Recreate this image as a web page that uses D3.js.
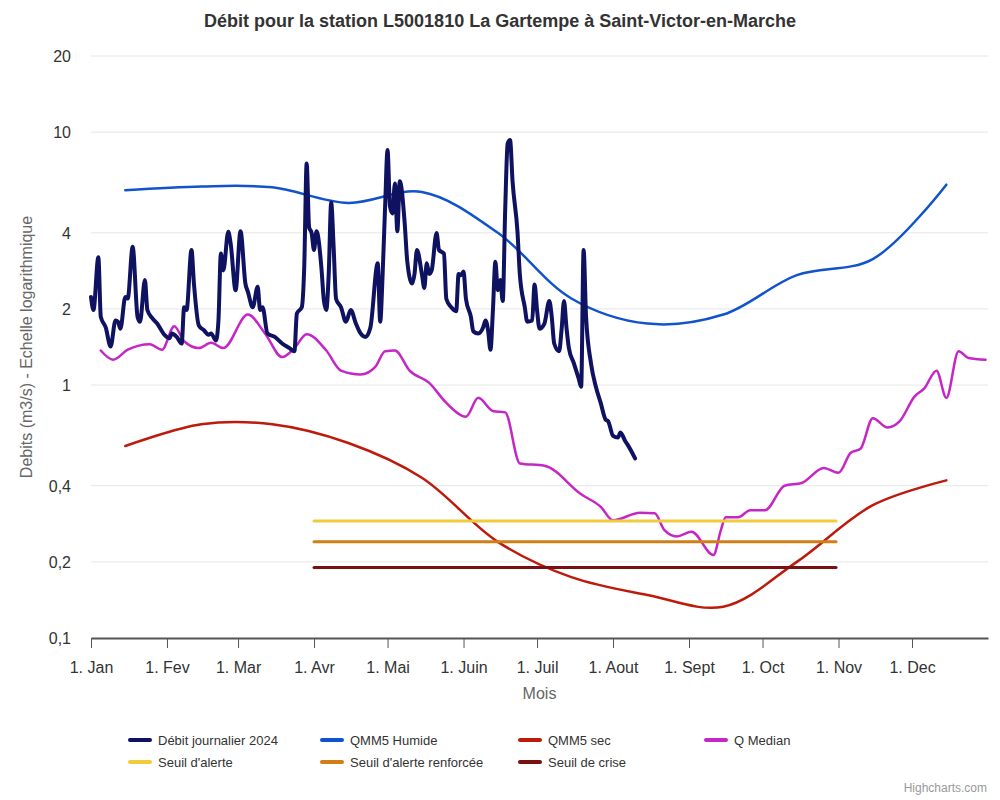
<!DOCTYPE html>
<html>
<head>
<meta charset="utf-8">
<script src="https://cdn.jsdelivr.net/npm/d3@7"></script>
<style>
  body { margin: 0; background: #fff; }
  svg { font-family: "Liberation Sans", Arial, sans-serif; }
</style>
</head>
<body>
<div id="chart"></div>
<script>
// Data
const monthLabels = ["1. Jan", "1. Fev", "1. Mar", "1. Avr", "1. Mai", "1. Juin",
                     "1. Juil", "1. Aout", "1. Sept", "1. Oct", "1. Nov", "1. Dec"];
const yTicks = [0.1, 0.2, 0.4, 1, 2, 4, 10, 20];

// daily flow 2024: day of year (0 = 1 Jan) and value m3/s
const dailyDays = [0, 1, 3, 4, 6, 8, 10, 11, 12, 14, 15, 17, 19, 20, 22, 23, 25, 27, 30, 32,
  33, 35, 37, 38, 39, 41, 42, 44, 46, 48, 49, 51, 52, 53, 54, 56, 57, 59, 61, 63,
  64, 66, 68, 69, 70, 72, 75, 78, 81, 83, 84, 86, 87, 88, 89, 90, 91, 92, 94, 95,
  96, 97, 98, 99, 100, 102, 104, 106, 108, 110, 112, 114, 117, 118, 119, 120, 121, 122, 123, 124,
  125, 126, 128, 129, 131, 132, 133, 135, 136, 137, 138, 139, 141, 142, 144, 145, 147, 149, 150, 151,
  152, 153, 155, 156, 158, 160, 161, 162, 163, 164, 165, 166, 167, 168, 169, 170, 171, 172, 174, 175,
  177, 178, 180, 181, 182, 183, 185, 187, 188, 189, 191, 192, 193, 194, 195, 197, 199, 200, 201, 202,
  204, 206, 208, 210, 211, 213, 215, 216, 218, 219, 222];
const dailyValues = [2.23, 1.98, 3.2, 1.86, 1.69, 1.42, 1.8, 1.78, 1.67, 2.23, 2.2, 3.52, 1.86, 1.78, 2.6, 1.98, 1.84, 1.75, 1.58, 1.53,
  1.6, 1.55, 1.46, 2.03, 1.98, 3.42, 2.52, 1.72, 1.65, 1.58, 1.6, 1.5, 1.8, 3.31, 2.84, 4.04, 3.62, 2.37, 4.06, 2.52,
  2.34, 2.03, 2.45, 1.98, 2.03, 1.6, 1.55, 1.46, 1.4, 1.36, 1.92, 2.03, 2.92, 7.52, 4.2, 4.0, 3.42, 4.06, 2.92, 2.17,
  1.98, 2.75, 5.27, 3.52, 2.19, 2.03, 1.78, 1.98, 1.76, 1.6, 1.55, 1.69, 3.03, 1.78, 2.75, 5.07, 8.49, 5.07, 4.77, 6.27,
  4.06, 6.4, 4.36, 3.12, 2.52, 2.75, 3.42, 2.75, 2.42, 3.03, 2.75, 2.84, 3.99, 3.42, 3.31, 2.19, 2.03, 1.96, 2.75, 2.72,
  2.81, 2.19, 1.86, 1.63, 1.6, 1.69, 1.8, 1.65, 1.38, 1.98, 3.07, 2.37, 2.6, 2.15, 4.92, 9.0, 9.3, 6.4, 4.06, 2.72,
  2.03, 1.78, 1.8, 2.5, 1.98, 1.67, 1.75, 2.15, 1.86, 1.46, 1.36, 1.65, 2.15, 1.69, 1.4, 1.22, 1.06, 0.985, 3.42, 1.86,
  1.22, 0.985, 0.848, 0.73, 0.72, 0.63, 0.62, 0.65, 0.60, 0.58, 0.513];

// monthly references, plotted on the 15th of each month
const monthDays = [14, 45, 74, 105, 135, 166, 196, 227, 258, 288, 319, 349];
const qmm5Humide = [5.89, 6.1, 6.05, 5.25, 5.8, 4.0, 2.2, 1.75, 1.9, 2.72, 3.15, 6.2];
const qmm5Sec = [0.574, 0.70, 0.70, 0.59, 0.43, 0.24, 0.174, 0.148, 0.133, 0.20, 0.335, 0.42];

// median flow
const medianDays = [4, 9, 15, 24, 29, 34, 38, 44, 49, 54, 64, 71, 78, 83, 88, 96, 102, 110, 116, 120,
  124, 130, 138, 145, 153, 158, 164, 169, 175, 185, 200, 208, 213, 224, 230, 234, 239, 245, 254, 257,
  259, 264, 269, 275, 283, 290, 299, 305, 310, 314, 319, 325, 330, 336, 340, 345, 349, 354, 358, 365];
const medianValues = [1.37, 1.26, 1.38, 1.45, 1.38, 1.71, 1.49, 1.40, 1.47, 1.40, 1.9, 1.6, 1.29, 1.40, 1.59, 1.37, 1.14, 1.10, 1.18, 1.36,
  1.37, 1.14, 1.02, 0.85, 0.75, 0.89, 0.79, 0.78, 0.49, 0.48, 0.37, 0.33, 0.292, 0.313, 0.311, 0.267, 0.252, 0.263, 0.213, 0.267,
  0.30, 0.30, 0.32, 0.32, 0.40, 0.41, 0.47, 0.45, 0.54, 0.56, 0.74, 0.68, 0.72, 0.90, 0.97, 1.14, 0.89, 1.36, 1.28, 1.26];

// thresholds, 1 Apr to 31 Oct
const seuilDays = [91, 304];
const seuilAlerte = 0.29;
const seuilRenforce = 0.24;
const seuilCrise = 0.19;

const legendNames = ["Débit journalier 2024", "QMM5 Humide", "QMM5 sec", "Q Median",
                     "Seuil d'alerte", "Seuil d'alerte renforcée", "Seuil de crise"];
const colors = ["#0e1260", "#1153cc", "#bd1a0c", "#c526c6", "#f0cc3c", "#cf7f16", "#7a1010"];

// The svg
const width = 1000, height = 800;
const plot = { left: 91, right: 988, top: 56, bottom: 638 };

const svg = d3.select("#chart")
    .append("svg")
    .attr("width", width)
    .attr("height", height);

const start = new Date(2024, 0, 1);
const dayToDate = d => new Date(2024, 0, 1 + d);

const x = d3.scaleTime()
    .domain([start, new Date(2025, 0, 1)])
    .range([plot.left, plot.right]);

const y = d3.scaleLog()
    .domain([0.1, 20])
    .range([plot.bottom, plot.top]);

// title
svg.append("text")
    .attr("x", 500)
    .attr("y", 27)
    .attr("text-anchor", "middle")
    .style("font-size", "18px")
    .style("font-weight", "bold")
    .style("fill", "#333")
    .text("Débit pour la station L5001810 La Gartempe à Saint-Victor-en-Marche");

// grid + y labels
const yAxis = svg.append("g");
yAxis.selectAll("line")
    .data(yTicks.filter(v => v > 0.1))
    .enter()
    .append("line")
    .attr("x1", plot.left)
    .attr("x2", plot.right)
    .attr("y1", d => y(d))
    .attr("y2", d => y(d))
    .attr("stroke", "#e6e6e6")
    .attr("stroke-width", 1);

yAxis.selectAll("text")
    .data(yTicks)
    .enter()
    .append("text")
    .attr("x", 71)
    .attr("y", d => y(d) + 6)
    .attr("text-anchor", "end")
    .style("font-size", "16px")
    .style("fill", "#333")
    .text(d => String(d).replace(".", ","));

svg.append("text")
    .attr("transform", `translate(32,${(plot.top + plot.bottom) / 2}) rotate(-90)`)
    .attr("text-anchor", "middle")
    .style("font-size", "16px")
    .style("fill", "#666")
    .text("Debits (m3/s) - Echelle logarithmique");

// x axis
const months = d3.timeMonth.range(start, new Date(2025, 0, 1));
const xAxis = svg.append("g")
    .attr("transform", `translate(0,${plot.bottom})`)
    .call(d3.axisBottom(x)
        .tickValues(months)
        .tickFormat((d, i) => monthLabels[i])
        .tickSize(10)
        .tickSizeOuter(0)
        .tickPadding(14));
xAxis.select(".domain").attr("stroke", "#555").attr("stroke-width", 2);
xAxis.selectAll(".tick line").attr("stroke", "#555");
xAxis.selectAll(".tick text")
    .style("font-size", "16px")
    .style("fill", "#333")
    .style("font-family", "'Liberation Sans', Arial, sans-serif");

svg.append("text")
    .attr("x", (plot.left + plot.right) / 2)
    .attr("y", 699)
    .attr("text-anchor", "middle")
    .style("font-size", "16px")
    .style("fill", "#666")
    .text("Mois");

// series
const makeLine = curve => d3.line()
    .x(d => x(dayToDate(d[0])))
    .y(d => y(d[1]))
    .curve(curve);

const median = d3.zip(medianDays, medianValues);
const humide = d3.zip(monthDays, qmm5Humide);
const sec = d3.zip(monthDays, qmm5Sec);
const daily = d3.zip(dailyDays, dailyValues);

const series = [
    { data: humide, color: colors[1], w: 2.5, curve: d3.curveCatmullRom.alpha(0.5) },
    { data: sec, color: colors[2], w: 2.5, curve: d3.curveCatmullRom.alpha(0.5) },
    { data: median, color: colors[3], w: 2.5, curve: d3.curveMonotoneX },
    { data: seuilDays.map(d => [d, seuilAlerte]), color: colors[4], w: 3, curve: d3.curveLinear },
    { data: seuilDays.map(d => [d, seuilRenforce]), color: colors[5], w: 3, curve: d3.curveLinear },
    { data: seuilDays.map(d => [d, seuilCrise]), color: colors[6], w: 3, curve: d3.curveLinear },
    { data: daily, color: colors[0], w: 4, curve: d3.curveMonotoneX }
];

svg.append("g")
    .selectAll("path")
    .data(series)
    .enter()
    .append("path")
    .attr("d", s => makeLine(s.curve)(s.data))
    .attr("fill", "none")
    .attr("stroke", s => s.color)
    .attr("stroke-width", s => s.w)
    .attr("stroke-linejoin", "round")
    .attr("stroke-linecap", "round");

// legend
const legendX = [130, 322, 520, 706];
const legend = svg.append("g")
    .selectAll("g")
    .data(legendNames)
    .enter()
    .append("g")
    .attr("transform", (d, i) => `translate(${legendX[i % 4]},${i < 4 ? 740 : 762})`);

legend.append("line")
    .attr("x1", 0)
    .attr("x2", 20)
    .attr("stroke", (d, i) => colors[i])
    .attr("stroke-width", 4)
    .attr("stroke-linecap", "round");

legend.append("text")
    .attr("x", 28)
    .attr("y", 5)
    .style("font-size", "13px")
    .style("fill", "#333")
    .text(d => d);

svg.append("text")
    .attr("x", 987)
    .attr("y", 792)
    .attr("text-anchor", "end")
    .style("font-size", "12px")
    .style("fill", "#999")
    .text("Highcharts.com");
</script>
</body>
</html>
